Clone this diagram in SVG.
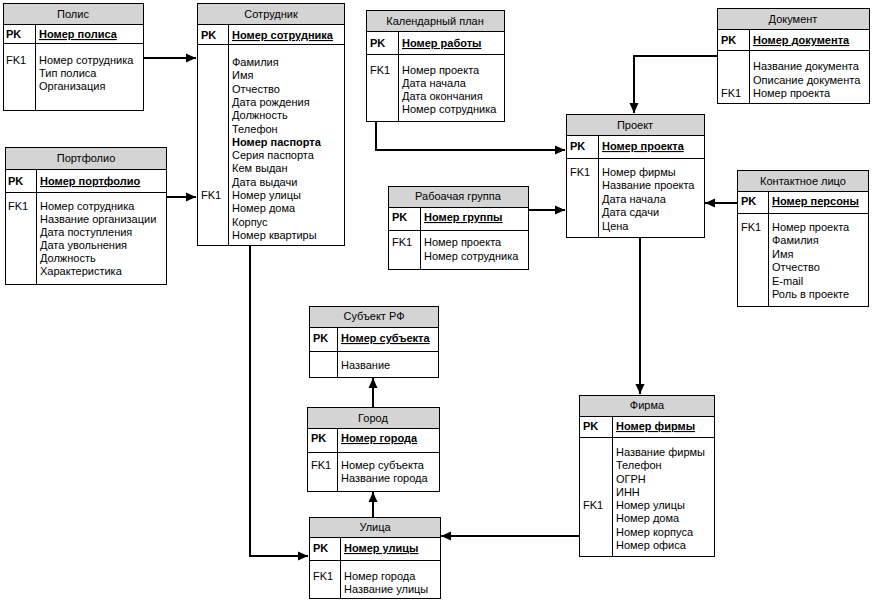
<svg xmlns="http://www.w3.org/2000/svg" width="872" height="601" viewBox="0 0 872 601">
<style>
text{font-family:"Liberation Sans",Arial,sans-serif;font-size:11px;fill:#000}
.t{text-anchor:middle}
.b{font-weight:bold}
.u{font-weight:bold;text-decoration:underline}
.box{fill:#fff;stroke:#000;stroke-width:1}
.hd{fill:#d4d4d4;stroke:#000;stroke-width:1}
.ln{stroke:#000;stroke-width:1;fill:none}
.c{stroke:#000;stroke-width:2;fill:none;marker-end:url(#a)}
</style>
<defs>
<marker id="a" viewBox="0 0 10 10" refX="10" refY="5" markerWidth="10" markerHeight="10" markerUnits="userSpaceOnUse" orient="auto"><path d="M0,0.5 L10,5 L0,9.5z" fill="#000"/></marker>
</defs>
<rect width="872" height="601" fill="#fff"/>
<g id="connectors">
<path class="c" d="M143,58 H196"/>
<path class="c" d="M166,197 H196"/>
<path class="c" d="M250,245 V556 H308"/>
<path class="c" d="M376,121 V150 H565"/>
<path class="c" d="M717,56 H634 V113"/>
<path class="c" d="M528,210 H565"/>
<path class="c" d="M737,203 H705"/>
<path class="c" d="M640,237 V394"/>
<path class="c" d="M373,407 V378"/>
<path class="c" d="M373,517 V492"/>
<path class="c" d="M579,536 H441"/>
</g>
<g id="polis">
<rect class="box" x="3.5" y="3.5" width="140" height="107"/>
<rect class="hd" x="3.5" y="3.5" width="140" height="21"/>
<path class="ln" d="M3.5,43.5 H143.5 M35.5,24.5 V110.5"/>
<text class="t" x="73" y="18">Полис</text>
<text class="b" x="6" y="38">PK</text>
<text class="u" x="39" y="38">Номер полиса</text>
<text x="6" y="64">FK1</text>
<text x="39" y="64">Номер сотрудника</text>
<text x="39" y="77">Тип полиса</text>
<text x="39" y="90">Организация</text>
</g>
<g id="sotrudnik">
<rect class="box" x="197.5" y="3.5" width="147" height="242"/>
<rect class="hd" x="197.5" y="3.5" width="147" height="21"/>
<path class="ln" d="M197.5,44.5 H344.5 M228.5,24.5 V245.5"/>
<text class="t" x="271" y="18">Сотрудник</text>
<text class="b" x="201" y="39">PK</text>
<text class="u" x="232" y="39">Номер сотрудника</text>
<text x="232" y="66">Фамилия</text>
<text x="232" y="79.3">Имя</text>
<text x="232" y="92.6">Отчество</text>
<text x="232" y="105.9">Дата рождения</text>
<text x="232" y="119.2">Должность</text>
<text x="232" y="132.5">Телефон</text>
<text class="b" x="232" y="145.8">Номер паспорта</text>
<text x="232" y="159.1">Серия паспорта</text>
<text x="232" y="172.4">Кем выдан</text>
<text x="232" y="185.7">Дата выдачи</text>
<text x="201" y="199">FK1</text>
<text x="232" y="199">Номер улицы</text>
<text x="232" y="212.3">Номер дома</text>
<text x="232" y="225.6">Корпус</text>
<text x="232" y="238.9">Номер квартиры</text>
</g>
<g id="kalendar">
<rect class="box" x="366.5" y="10.5" width="138" height="111"/>
<rect class="hd" x="366.5" y="10.5" width="138" height="21"/>
<path class="ln" d="M366.5,54.5 H504.5 M398.5,31.5 V121.5"/>
<text class="t" x="435" y="25">Календарный план</text>
<text class="b" x="370" y="47">PK</text>
<text class="u" x="402" y="47">Номер работы</text>
<text x="370" y="74">FK1</text>
<text x="402" y="74">Номер проекта</text>
<text x="402" y="87">Дата начала</text>
<text x="402" y="100">Дата окончания</text>
<text x="402" y="113">Номер сотрудника</text>
</g>
<g id="dokument">
<rect class="box" x="717.5" y="8.5" width="152" height="95"/>
<rect class="hd" x="717.5" y="8.5" width="152" height="21"/>
<path class="ln" d="M717.5,50.5 H869.5 M749.5,29.5 V103.5"/>
<text class="t" x="793" y="23">Документ</text>
<text class="b" x="721" y="44">PK</text>
<text class="u" x="753" y="44">Номер документа</text>
<text x="753" y="70">Название документа</text>
<text x="753" y="84">Описание документа</text>
<text x="721" y="97">FK1</text>
<text x="753" y="97">Номер проекта</text>
</g>
<g id="portfolio">
<rect class="box" x="5.5" y="147.5" width="161" height="137"/>
<rect class="hd" x="5.5" y="147.5" width="161" height="22"/>
<path class="ln" d="M5.5,192.5 H166.5 M36.5,169.5 V284.5"/>
<text class="t" x="86" y="162">Портфолио</text>
<text class="b" x="8" y="185">PK</text>
<text class="u" x="40" y="185">Номер портфолио</text>
<text x="8" y="210">FK1</text>
<text x="40" y="210">Номер сотрудника</text>
<text x="40" y="223">Название организации</text>
<text x="40" y="236">Дата поступления</text>
<text x="40" y="249">Дата увольнения</text>
<text x="40" y="262">Должность</text>
<text x="40" y="275">Характеристика</text>
</g>
<g id="proekt">
<rect class="box" x="566.5" y="114.5" width="138" height="123"/>
<rect class="hd" x="566.5" y="114.5" width="138" height="21"/>
<path class="ln" d="M566.5,158.5 H704.5 M598.5,135.5 V237.5"/>
<text class="t" x="635" y="129">Проект</text>
<text class="b" x="570" y="150">PK</text>
<text class="u" x="602" y="150">Номер проекта</text>
<text x="570" y="176">FK1</text>
<text x="602" y="176">Номер фирмы</text>
<text x="602" y="189">Название проекта</text>
<text x="602" y="203">Дата начала</text>
<text x="602" y="216">Дата сдачи</text>
<text x="602" y="230">Цена</text>
</g>
<g id="gruppa">
<rect class="box" x="388.5" y="186.5" width="140" height="83"/>
<rect class="hd" x="388.5" y="186.5" width="140" height="21"/>
<path class="ln" d="M388.5,230.5 H528.5 M420.5,207.5 V269.5"/>
<text class="t" x="458" y="200">Рабоачая группа</text>
<text class="b" x="392" y="221">PK</text>
<text class="u" x="424" y="221">Номер группы</text>
<text x="392" y="246">FK1</text>
<text x="424" y="246">Номер проекта</text>
<text x="424" y="260">Номер сотрудника</text>
</g>
<g id="kontakt">
<rect class="box" x="737.5" y="170.5" width="131" height="136"/>
<rect class="hd" x="737.5" y="170.5" width="131" height="21"/>
<path class="ln" d="M737.5,213.5 H868.5 M768.5,191.5 V306.5"/>
<text class="t" x="803" y="185">Контактное лицо</text>
<text class="b" x="741" y="205">PK</text>
<text class="u" x="772" y="205">Номер персоны</text>
<text x="741" y="231">FK1</text>
<text x="772" y="231">Номер проекта</text>
<text x="772" y="244">Фамилия</text>
<text x="772" y="258">Имя</text>
<text x="772" y="271">Отчество</text>
<text x="772" y="285">E-mail</text>
<text x="772" y="298">Роль в проекте</text>
</g>
<g id="firma">
<rect class="box" x="579.5" y="395.5" width="135" height="161"/>
<rect class="hd" x="579.5" y="395.5" width="135" height="21"/>
<path class="ln" d="M579.5,437.5 H714.5 M612.5,416.5 V556.5"/>
<text class="t" x="647" y="409">Фирма</text>
<text class="b" x="583" y="430">PK</text>
<text class="u" x="616" y="430">Номер фирмы</text>
<text x="616" y="456">Название фирмы</text>
<text x="616" y="469">Телефон</text>
<text x="616" y="483">ОГРН</text>
<text x="616" y="496">ИНН</text>
<text x="583" y="509">FK1</text>
<text x="616" y="509">Номер улицы</text>
<text x="616" y="522">Номер дома</text>
<text x="616" y="536">Номер корпуса</text>
<text x="616" y="549">Номер офиса</text>
</g>
<g id="subekt">
<rect class="box" x="309.5" y="306.5" width="129" height="71"/>
<rect class="hd" x="309.5" y="306.5" width="129" height="21"/>
<path class="ln" d="M309.5,351.5 H438.5 M337.5,327.5 V377.5"/>
<text class="t" x="374" y="320">Субъект РФ</text>
<text class="b" x="313" y="342">PK</text>
<text class="u" x="341" y="342">Номер субъекта</text>
<text x="341" y="369">Название</text>
</g>
<g id="gorod">
<rect class="box" x="307.5" y="407.5" width="132" height="84"/>
<rect class="hd" x="307.5" y="407.5" width="132" height="21"/>
<path class="ln" d="M307.5,452.5 H439.5 M337.5,428.5 V491.5"/>
<text class="t" x="373" y="422">Город</text>
<text class="b" x="311" y="442">PK</text>
<text class="u" x="341" y="442">Номер города</text>
<text x="311" y="469">FK1</text>
<text x="341" y="469">Номер субъекта</text>
<text x="341" y="482">Название города</text>
</g>
<g id="ulica">
<rect class="box" x="309.5" y="517.5" width="131" height="81"/>
<rect class="hd" x="309.5" y="517.5" width="131" height="20"/>
<path class="ln" d="M309.5,560.5 H440.5 M340.5,537.5 V598.5"/>
<text class="t" x="375" y="531">Улица</text>
<text class="b" x="313" y="552">PK</text>
<text class="u" x="344" y="552">Номер улицы</text>
<text x="313" y="580">FK1</text>
<text x="344" y="580">Номер города</text>
<text x="344" y="593">Название улицы</text>
</g>
</svg>
